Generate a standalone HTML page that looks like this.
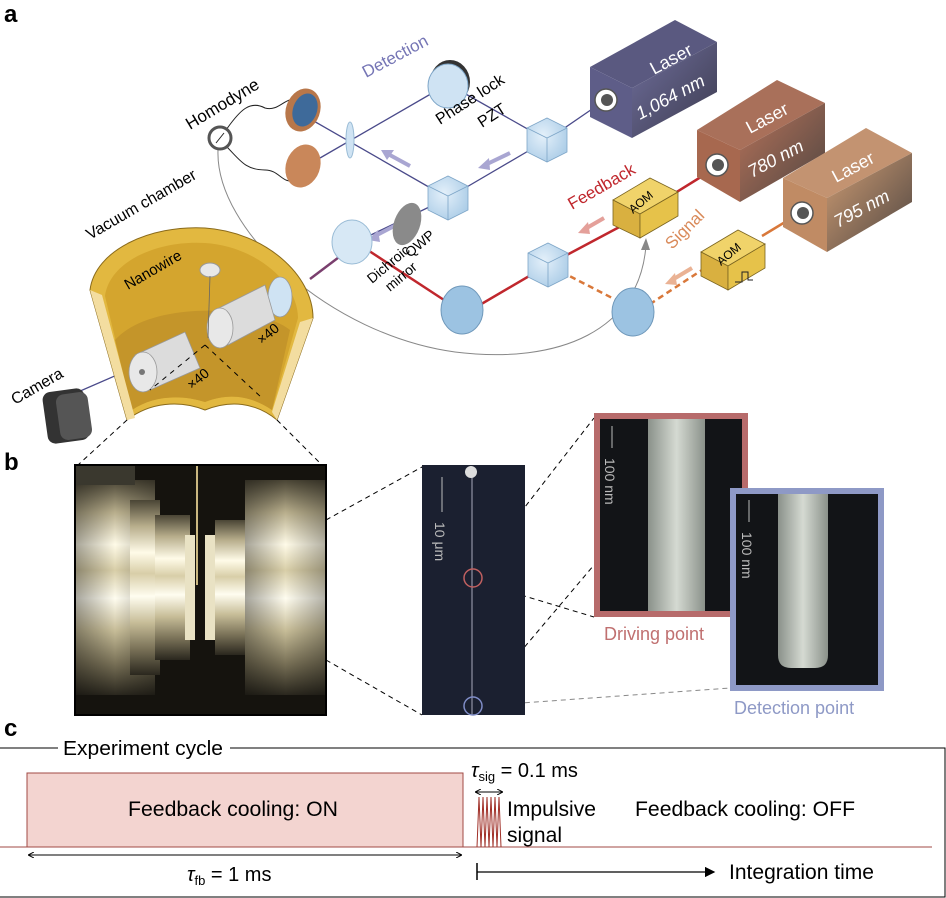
<!DOCTYPE html>
<html><head><meta charset="utf-8"><style>
html,body{margin:0;padding:0;background:#fff}
svg{display:block}
text{font-family:"Liberation Sans",sans-serif}
</style></head><body>
<svg width="946" height="898" viewBox="0 0 946 898" xmlns="http://www.w3.org/2000/svg">
<defs>
<linearGradient id="l1" x1="0" y1="0" x2="1" y2="1"><stop offset="0" stop-color="#6f6e9c"/><stop offset="1" stop-color="#3c3b4e"/></linearGradient>
<linearGradient id="l2" x1="0" y1="0" x2="1" y2="1"><stop offset="0" stop-color="#b7735a"/><stop offset="1" stop-color="#4e4541"/></linearGradient>
<linearGradient id="l3" x1="0" y1="0" x2="1" y2="1"><stop offset="0" stop-color="#cf9d74"/><stop offset="1" stop-color="#4e4541"/></linearGradient>
<linearGradient id="metal" x1="0" y1="0" x2="0" y2="1"><stop offset="0" stop-color="#4a4535"/><stop offset=".15" stop-color="#b8ae8c"/><stop offset=".3" stop-color="#fffbe8"/><stop offset=".42" stop-color="#d8cea8"/><stop offset=".55" stop-color="#fffdf0"/><stop offset=".7" stop-color="#c7bd98"/><stop offset=".85" stop-color="#7a7258"/><stop offset="1" stop-color="#2a271e"/></linearGradient>
<linearGradient id="metal2" x1="0" y1="0" x2="1" y2="0"><stop offset="0" stop-color="#000" stop-opacity=".35"/><stop offset=".5" stop-color="#000" stop-opacity="0"/><stop offset="1" stop-color="#000" stop-opacity=".3"/></linearGradient>
<linearGradient id="wire" x1="0" y1="0" x2="1" y2="0"><stop offset="0" stop-color="#8a918a"/><stop offset=".5" stop-color="#d5dad2"/><stop offset="1" stop-color="#8a918a"/></linearGradient>
<radialGradient id="cub" cx=".4" cy=".4" r=".7"><stop offset="0" stop-color="#e4f0fa"/><stop offset="1" stop-color="#a9cbe6"/></radialGradient>
<marker id="ah" markerWidth="8" markerHeight="8" refX="7" refY="4" orient="auto"><path d="M0,0 L8,4 L0,8 z" fill="#000"/></marker>
<marker id="ah2" markerWidth="6" markerHeight="6" refX="5" refY="3" orient="auto-start-reverse"><path d="M0,0 L6,3 L0,6" fill="none" stroke="#000" stroke-width="1"/></marker>
</defs>

<text x="4" y="22" font-size="24" font-weight="bold">a</text>
<text x="4" y="470" font-size="24" font-weight="bold">b</text>
<text x="4" y="736" font-size="24" font-weight="bold">c</text>

<path d="M218,150 C215,230 330,335 455,352 C560,365 640,330 646,245" fill="none" stroke="#888" stroke-width="1"/>
<path d="M641,250 L646,238 L650,250 z" fill="#888"/>
<path d="M226,130 C240,110 250,100 265,108 C280,112 285,95 300,100" fill="none" stroke="#222" stroke-width="1"/>
<path d="M226,146 C240,160 245,170 265,170 C280,170 282,185 296,180" fill="none" stroke="#222" stroke-width="1"/>

<g stroke="#4a4a8a" stroke-width="1.3" fill="none">
<line x1="598" y1="105" x2="547" y2="140"/>
<line x1="547" y1="140" x2="448" y2="84"/>
<line x1="448" y1="84" x2="320" y2="158"/>
<line x1="547" y1="140" x2="448" y2="198"/>
<line x1="448" y1="198" x2="312" y2="120"/>
<line x1="448" y1="198" x2="352" y2="244"/>
<line x1="310" y1="279" x2="355" y2="245" stroke="#7a3f6e" stroke-width="2.5"/>
<line x1="48" y1="405" x2="140" y2="365"/>
</g>
<g stroke="#c0272d" stroke-width="2.5" fill="none">
<polyline points="717,167 625,224 548,265 478,306"/>
<polyline points="444,300 357,243"/>
</g>
<g stroke="#d9783a" stroke-width="2.5" fill="none">
<line x1="800" y1="213" x2="762" y2="236"/>
<polyline points="705,268 644,308" stroke-dasharray="6,4"/>
<polyline points="620,302 548,265" stroke-dasharray="6,4"/>
</g>
<g stroke="#a9a6d2" stroke-width="4" fill="none">
<line x1="510" y1="153" x2="485" y2="165"/>
<line x1="410" y1="166" x2="388" y2="154"/>
<line x1="400" y1="223" x2="375" y2="236"/>
</g>
<path d="M478,168 L489,158 L490,170 z" fill="#a9a6d2"/>
<path d="M381,150 L394,150 L387,160 z" fill="#a9a6d2"/>
<path d="M368,240 L378,230 L380,242 z" fill="#a9a6d2"/>
<line x1="604" y1="218" x2="585" y2="229" stroke="#e4a09a" stroke-width="4"/>
<path d="M578,233 L588,222 L590,234 z" fill="#e4a09a"/>
<line x1="692" y1="268" x2="672" y2="280" stroke="#eab294" stroke-width="4"/>
<path d="M665,284 L675,273 L677,285 z" fill="#eab294"/>

<g>
<polygon points="590,67 675,20 717,42 632,88" fill="#5a5980"/>
<polygon points="590,67 632,88 632,138 590,117" fill="#5e5d88"/>
<polygon points="632,88 717,42 717,92 632,138" fill="url(#l1)"/>
<circle cx="606" cy="100" r="11" fill="#fff" stroke="#555" stroke-width="1.5"/><circle cx="607" cy="100" r="6" fill="#555"/>
<text transform="translate(654,75) rotate(-28)" font-size="18" fill="#fff">Laser</text>
<text transform="translate(640,120) rotate(-28)" font-size="18" fill="#fff" font-style="italic">1,064 nm</text>
</g>
<g>
<polygon points="697,130 777,80 825,103 740,150" fill="#a9705a"/>
<polygon points="697,130 740,150 740,202 697,177" fill="#a7684f"/>
<polygon points="740,150 825,103 825,153 740,202" fill="url(#l2)"/>
<circle cx="717" cy="165" r="11" fill="#fff" stroke="#555" stroke-width="1.5"/><circle cx="718" cy="165" r="6" fill="#555"/>
<text transform="translate(750,134) rotate(-28)" font-size="18" fill="#fff">Laser</text>
<text transform="translate(752,178) rotate(-28)" font-size="18" fill="#fff" font-style="italic">780 nm</text>
</g>
<g>
<polygon points="783,178 866,128 912,153 827,198" fill="#c39371"/>
<polygon points="783,178 827,198 827,252 783,227" fill="#c08b64"/>
<polygon points="827,198 912,153 912,202 827,252" fill="url(#l3)"/>
<circle cx="802" cy="213" r="11" fill="#fff" stroke="#555" stroke-width="1.5"/><circle cx="803" cy="213" r="6" fill="#555"/>
<text transform="translate(836,183) rotate(-28)" font-size="18" fill="#fff">Laser</text>
<text transform="translate(838,228) rotate(-28)" font-size="18" fill="#fff" font-style="italic">795 nm</text>
</g>
<g stroke="#7a6420" stroke-width=".8">
<polygon points="613,200 650,178 678,192 640,214" fill="#f0d36a"/>
<polygon points="613,200 640,214 640,238 613,225" fill="#d9b040"/>
<polygon points="640,214 678,192 678,216 640,238" fill="#e6c24a"/>
<polygon points="701,252 738,230 765,244 728,266" fill="#f0d36a"/>
<polygon points="701,252 728,266 728,290 701,276" fill="#d9b040"/>
<polygon points="728,266 765,244 765,268 728,290" fill="#e6c24a"/>
</g>
<text transform="translate(633,214) rotate(-40)" font-size="12">AOM</text>
<text transform="translate(721,266) rotate(-40)" font-size="12">AOM</text>
<path d="M735,282 L742,282 L742,272 L748,272 L748,280 L753,280" fill="none" stroke="#222" stroke-width="1"/>

<g stroke="#7ea6c8" stroke-width=".8">
<polygon points="527,128 547,118 567,128 567,152 547,162 527,152" fill="url(#cub)"/>
<polygon points="428,186 448,176 468,186 468,210 448,220 428,210" fill="url(#cub)"/>
<polygon points="528,253 548,243 568,253 568,277 548,287 528,277" fill="url(#cub)"/>
<path d="M527,128 L547,138 L567,128 M547,138 L547,162" fill="none"/>
<path d="M428,186 L448,196 L468,186 M448,196 L448,220" fill="none"/>
<path d="M528,253 L548,263 L568,253 M548,263 L548,287" fill="none"/>
</g>
<ellipse cx="450" cy="82" rx="20" ry="22" fill="#333"/>
<ellipse cx="448" cy="86" rx="20" ry="22" fill="#cfe3f3" stroke="#7ea6c8"/>
<ellipse cx="352" cy="242" rx="20" ry="22" fill="#d7e8f5" stroke="#9abcd6"/>
<ellipse cx="407" cy="224" rx="13" ry="22" fill="#8a8a8a" transform="rotate(20 407 224)"/>
<ellipse cx="462" cy="310" rx="21" ry="24" fill="#9cc3e2" stroke="#6f98ba"/>
<ellipse cx="633" cy="312" rx="21" ry="24" fill="#9cc3e2" stroke="#6f98ba"/>
<ellipse cx="350" cy="140" rx="4" ry="18" fill="#cfe3f3" stroke="#9abcd6"/>
<ellipse cx="303" cy="110" rx="17" ry="22" fill="#b8774a" transform="rotate(20 303 110)"/>
<ellipse cx="305" cy="110" rx="12" ry="17" fill="#3e6a9a" transform="rotate(20 305 110)"/>
<ellipse cx="303" cy="166" rx="17" ry="22" fill="#c9875a" transform="rotate(20 303 166)"/>
<circle cx="220" cy="138" r="11" fill="#fff" stroke="#555" stroke-width="3"/>
<line x1="216" y1="143" x2="224" y2="133" stroke="#222"/>

<text transform="translate(366,78) rotate(-28)" font-size="17" fill="#7575b5">Detection</text>
<text transform="translate(190,130) rotate(-31)" font-size="17">Homodyne</text>
<text transform="translate(440,125) rotate(-33)" font-size="16">Phase lock</text>
<text transform="translate(482,128) rotate(-33)" font-size="16">PZT</text>
<text transform="translate(572,210) rotate(-30)" font-size="17" fill="#c0272d">Feedback</text>
<text transform="translate(672,250) rotate(-45)" font-size="17" fill="#d98a5a">Signal</text>
<text transform="translate(372,284) rotate(-40)" font-size="14">Dichroic</text>
<text transform="translate(390,292) rotate(-40)" font-size="14">mirror</text>
<text transform="translate(410,258) rotate(-40)" font-size="14">QWP</text>

<path d="M90,290 C95,250 150,225 205,228 C265,232 313,275 313,318 L277,420 C255,402 230,400 205,410 C180,400 150,402 127,420 Z" fill="#e2b840" stroke="#8a6a1a" stroke-width="1"/>
<path d="M105,296 C110,260 160,240 205,243 C255,246 298,282 298,318 L272,410 C250,395 228,393 205,402 C180,394 152,396 132,410 Z" fill="#d4a52e"/>
<path d="M115,340 C150,300 260,305 290,330 L272,410 C250,395 228,393 205,402 C180,394 152,396 132,410 Z" fill="#c4952a"/>
<path d="M90,290 L102,295 L135,418 L127,420 Z" fill="#f3dda0"/>
<path d="M313,318 L300,322 L272,412 L277,420 Z" fill="#f3dda0"/>
<g fill="#e8e8e8" stroke="#999" stroke-width=".8">
<ellipse cx="280" cy="297" rx="12" ry="20" fill="#cfe3f3"/>
<path d="M215,310 L265,285 L275,320 L228,345 Z" fill="#dcdcdc"/>
<ellipse cx="220" cy="328" rx="13" ry="20"/>
<path d="M135,355 L185,332 L200,368 L150,390 Z" fill="#dcdcdc"/>
<ellipse cx="143" cy="372" rx="14" ry="20"/>
</g>
<circle cx="142" cy="372" r="3" fill="#777"/>
<ellipse cx="210" cy="270" rx="10" ry="7" fill="#e8e8e8" stroke="#999"/>
<line x1="210" y1="276" x2="208" y2="338" stroke="#666" stroke-width=".8"/>
<path d="M205,345 L150,390 M205,345 L262,398" stroke="#000" stroke-dasharray="5,5" stroke-width="1"/>
<text transform="translate(90,240) rotate(-30)" font-size="16">Vacuum chamber</text>
<text transform="translate(128,290) rotate(-30)" font-size="15">Nanowire</text>
<text transform="translate(15,405) rotate(-30)" font-size="16">Camera</text>
<text transform="translate(192,390) rotate(-40)" font-size="14">×40</text>
<text transform="translate(262,345) rotate(-40)" font-size="14">×40</text>
<rect x="45" y="390" width="42" height="52" rx="8" fill="#333" transform="rotate(-8 66 416)"/>
<rect x="58" y="393" width="32" height="46" rx="8" fill="#555" transform="rotate(-8 74 416)"/>

<g stroke="#000" stroke-dasharray="5,4" stroke-width="1" fill="none">
<line x1="127" y1="420" x2="78" y2="465"/>
<line x1="277" y1="420" x2="322" y2="465"/>
<line x1="326" y1="520" x2="422" y2="467"/>
<line x1="326" y1="660" x2="422" y2="715"/>
<line x1="476" y1="570" x2="594" y2="418"/>
<line x1="478" y1="582" x2="594" y2="617"/>
<line x1="478" y1="702" x2="594" y2="565"/>
<line x1="480" y1="706" x2="730" y2="688" stroke="#888"/>
</g>

<!-- photo 1 -->
<rect x="75" y="465" width="251" height="250" fill="#15130e"/>
<rect x="75" y="480" width="80" height="215" fill="url(#metal)"/>
<rect x="75" y="480" width="80" height="215" fill="url(#metal2)"/>
<rect x="130" y="500" width="30" height="175" fill="url(#metal)"/>
<rect x="155" y="515" width="35" height="145" fill="url(#metal)"/>
<rect x="185" y="535" width="10" height="105" fill="#e9e2c4"/>
<rect x="205" y="535" width="15" height="105" fill="#e9e2c4"/>
<rect x="215" y="520" width="35" height="135" fill="url(#metal)"/>
<rect x="245" y="480" width="81" height="215" fill="url(#metal)"/>
<rect x="245" y="480" width="81" height="215" fill="url(#metal2)"/>
<rect x="75" y="465" width="60" height="20" fill="#3a382e"/>
<rect x="196" y="465" width="2" height="120" fill="#c9b780"/>
<rect x="75" y="465" width="251" height="250" fill="none" stroke="#000" stroke-width="2"/>
<!-- photo 2 -->
<rect x="422" y="465" width="103" height="250" fill="#1b2030"/>
<line x1="472" y1="475" x2="472" y2="715" stroke="#aab" stroke-width="1"/>
<ellipse cx="471" cy="472" rx="6" ry="6" fill="#ddd"/>
<circle cx="473" cy="578" r="9" fill="none" stroke="#c06060" stroke-width="1.5"/>
<circle cx="473" cy="706" r="9" fill="none" stroke="#7f8cc6" stroke-width="1.5"/>
<line x1="442" y1="477" x2="442" y2="512" stroke="#bbb"/>
<text transform="translate(435,522) rotate(90)" font-size="14" fill="#bbb">10 μm</text>
<!-- photo 3 -->
<rect x="594" y="413" width="154" height="204" fill="#b76b6b"/>
<rect x="600" y="419" width="142" height="192" fill="#121417"/>
<rect x="648" y="419" width="57" height="192" fill="url(#wire)"/>
<line x1="612" y1="426" x2="612" y2="448" stroke="#bbb"/>
<text transform="translate(605,458) rotate(90)" font-size="14" fill="#bbb">100 nm</text>
<text x="604" y="640" font-size="18" fill="#c07070">Driving point</text>
<!-- photo 4 -->
<rect x="730" y="488" width="154" height="203" fill="#8e99c6"/>
<rect x="736" y="494" width="142" height="191" fill="#121417"/>
<path d="M778,494 L828,494 L828,655 Q828,668 815,668 L791,668 Q778,668 778,655 Z" fill="url(#wire)"/>
<line x1="749" y1="500" x2="749" y2="522" stroke="#bbb"/>
<text transform="translate(742,532) rotate(90)" font-size="14" fill="#bbb">100 nm</text>
<text x="734" y="714" font-size="18" fill="#8e99c6">Detection point</text>

<!-- panel c -->
<path d="M0,748 L58,748 M230,748 L945,748 L945,897 L0,897" fill="none" stroke="#000" stroke-width="1"/>
<text x="63" y="755" font-size="20" textLength="160" lengthAdjust="spacingAndGlyphs">Experiment cycle</text>
<rect x="27" y="773" width="436" height="74" fill="#f3d4d0" stroke="#a04a44" stroke-width="1"/>
<line x1="0" y1="847" x2="932" y2="847" stroke="#a04a44" stroke-width="1"/>
<path d="M477,847 L479,797 L481,847 L483,797 L485,847 L487,797 L489,847 L491,797 L493,847 L495,797 L497,847 L499,797 L501,847" fill="none" stroke="#a03028" stroke-width="1"/>
<text x="128" y="816" font-size="21" textLength="210" lengthAdjust="spacingAndGlyphs">Feedback cooling: ON</text>
<line x1="29" y1="855" x2="461" y2="855" stroke="#000" marker-start="url(#ah2)" marker-end="url(#ah2)"/>
<text x="187" y="881" font-size="20" font-style="italic">τ<tspan font-size="13" dy="4" font-style="normal">fb</tspan><tspan dy="-4" font-style="normal"> = 1 ms</tspan></text>
<text x="471" y="777" font-size="20" font-style="italic">τ<tspan font-size="13" dy="4" font-style="normal">sig</tspan><tspan dy="-4" font-style="normal"> = 0.1 ms</tspan></text>
<line x1="476" y1="792" x2="502" y2="792" stroke="#000" marker-start="url(#ah2)" marker-end="url(#ah2)"/>
<text x="507" y="816" font-size="21" textLength="89" lengthAdjust="spacingAndGlyphs">Impulsive</text>
<text x="507" y="842" font-size="21" textLength="55" lengthAdjust="spacingAndGlyphs">signal</text>
<text x="635" y="816" font-size="21" textLength="220" lengthAdjust="spacingAndGlyphs">Feedback cooling: OFF</text>
<line x1="477" y1="863" x2="477" y2="880" stroke="#000" stroke-width="1.5"/>
<line x1="477" y1="872" x2="714" y2="872" stroke="#000" stroke-width="1.3" marker-end="url(#ah)"/>
<text x="729" y="879" font-size="21" textLength="145" lengthAdjust="spacingAndGlyphs">Integration time</text>
</svg>
</body></html>
